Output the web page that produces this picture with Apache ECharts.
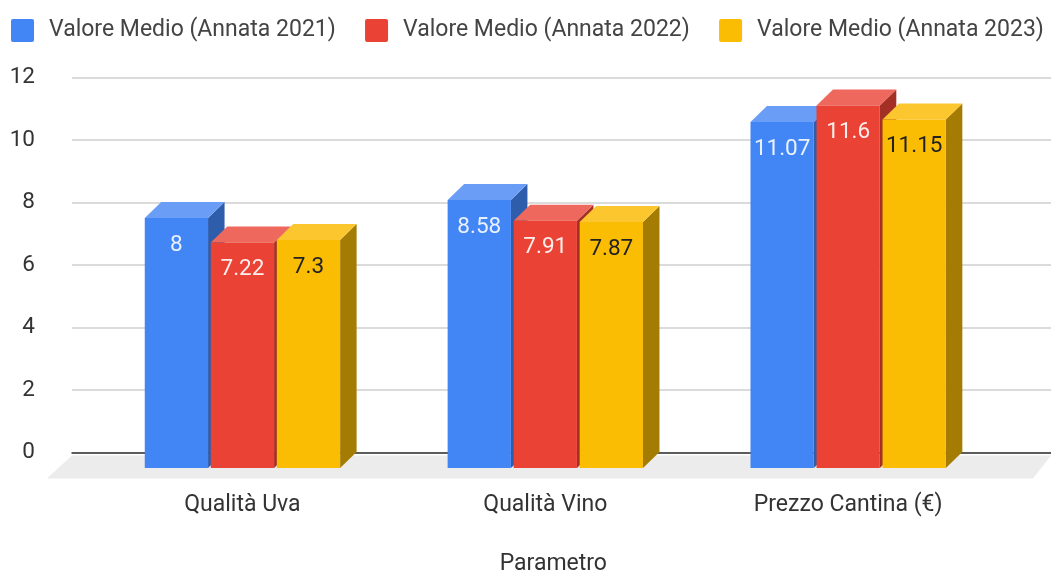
<!DOCTYPE html>
<html><head><meta charset="utf-8">
<style>html,body{margin:0;padding:0;background:#fff}#main{width:1051px;height:572px;filter:blur(0.5px)}</style>
<script src="https://cdn.jsdelivr.net/npm/echarts@6/dist/echarts.min.js"></script>
</head><body><div id="main"></div>
<script>
const categories = ['Qualità Uva', 'Qualità Vino', 'Prezzo Cantina (€)'];
const yTicks = [0, 2, 4, 6, 8, 10, 12];
const names = ['Valore Medio (Annata 2021)', 'Valore Medio (Annata 2022)', 'Valore Medio (Annata 2023)'];
const values2021 = [8, 8.58, 11.07];
const values2022 = [7.22, 7.91, 11.6];
const values2023 = [7.3, 7.87, 11.15];
const front = ['#4285F4', '#EA4335', '#FBBC04'];
const topFace = ['#6A9DF6', '#EE685D', '#FCC62F'];
const sideFace = ['#2E5DAB', '#A32F25', '#A57C03'];
const labelColor = ['#EAF1FE', '#FDEDEB', '#222222'];
const FONT = 'Roboto';
const DX = 16.5, DY = 16;

function barItem(si) {
  return function (params, api) {
    const cat = api.value(0), val = api.value(1);
    const base = api.coord([cat, 0]), tip = api.coord([cat, val]);
    const band = api.size([1, 0])[0];
    const w = band * 0.209, step = band * 0.218;
    const x = base[0] + (si - 1) * step - w / 2, y = tip[1], b = base[1];
    return {
      type: 'group',
      children: [
        { type: 'polygon', shape: { points: [[x + w, y], [x + w + DX, y - DY], [x + w + DX, b - DY], [x + w, b]] }, style: { fill: sideFace[si] } },
        { type: 'polygon', shape: { points: [[x, y], [x + DX, y - DY], [x + w + DX, y - DY], [x + w, y]] }, style: { fill: topFace[si] } },
        { type: 'rect', shape: { x: x, y: y, width: w, height: b - y }, style: { fill: front[si] } },
        { type: 'text', x: x + w / 2, y: y + 27, style: { text: String(val), fill: labelColor[si], font: '22.5px ' + FONT, align: 'center', verticalAlign: 'middle' } }
      ]
    };
  };
}
function series(si, vals) {
  return {
    name: names[si], type: 'custom', xAxisIndex: 1, yAxisIndex: 1, z: 5 + si,
    itemStyle: { color: front[si] },
    encode: { x: 0, y: 1 }, clip: false, silent: true,
    data: vals.map((v, i) => [i, v]),
    renderItem: barItem(si)
  };
}
const chart = echarts.init(document.getElementById('main'), null, { renderer: 'canvas' });
chart.setOption({
  animation: false,
  backgroundColor: '#fff',
  legend: {
    data: names, left: 6, top: 11, width: 1100, itemWidth: 23, itemHeight: 23, itemGap: 29.3,
    icon: 'path://M2 0H21Q23 0 23 2V21Q23 23 21 23H2Q0 23 0 21V2Q0 0 2 0Z',
    formatter: '{a|{name}}',
    textStyle: { fontFamily: FONT, fontSize: 23, color: '#444', padding: [0, 0, 0, 10],
      rich: { a: { fontFamily: FONT, fontSize: 23, color: '#444', lineHeight: 29, verticalAlign: 'bottom', height: 29 } } }
  },
  grid: [
    { left: 72, right: 0, top: 77.5, height: 375, outerBoundsMode: 'none' },
    { left: 91, right: 51.4, top: 93, height: 375, outerBoundsMode: 'none' }
  ],
  xAxis: [
    { type: 'category', gridIndex: 0, data: categories, axisLine: { lineStyle: { color: '#333', width: 1.5 } }, axisTick: { show: false }, axisLabel: { show: false } },
    { type: 'category', gridIndex: 1, data: categories, axisLine: { show: false }, axisTick: { show: false },
      axisLabel: { margin: 26, fontFamily: FONT, fontSize: 23, color: '#333' },
      name: 'Parametro', nameLocation: 'middle', nameGap: 85,
      nameTextStyle: { fontFamily: FONT, fontSize: 23, color: '#333', padding: [0, 0, 0, 16] } }
  ],
  yAxis: [
    { type: 'value', gridIndex: 0, min: 0, max: 12, interval: yTicks[1] - yTicks[0], axisLine: { show: false }, axisTick: { show: false },
      splitLine: { lineStyle: { color: '#cfcfcf', width: 1.5 } },
      axisLabel: { margin: 37, fontFamily: FONT, fontSize: 22.5, color: '#333' } },
    { type: 'value', gridIndex: 1, min: 0, max: 12, interval: 2, show: false, splitLine: { show: false } }
  ],
  series: [
    { type: 'custom', xAxisIndex: 0, yAxisIndex: 0, z: 1, silent: true, clip: false, data: [[0, 0]],
      renderItem: function (params, api) {
        const c = params.coordSys, y0 = c.y + c.height, x0 = c.x, x1 = c.x + c.width;
        return { type: 'polygon', shape: { points: [[x0, y0 + 3], [x1, y0 + 3], [x1 - 18, y0 + 26], [x0 - 25, y0 + 26]] }, style: { fill: '#ececec' } };
      } },
    series(0, values2021), series(1, values2022), series(2, values2023)
  ]
});
</script></body></html>
